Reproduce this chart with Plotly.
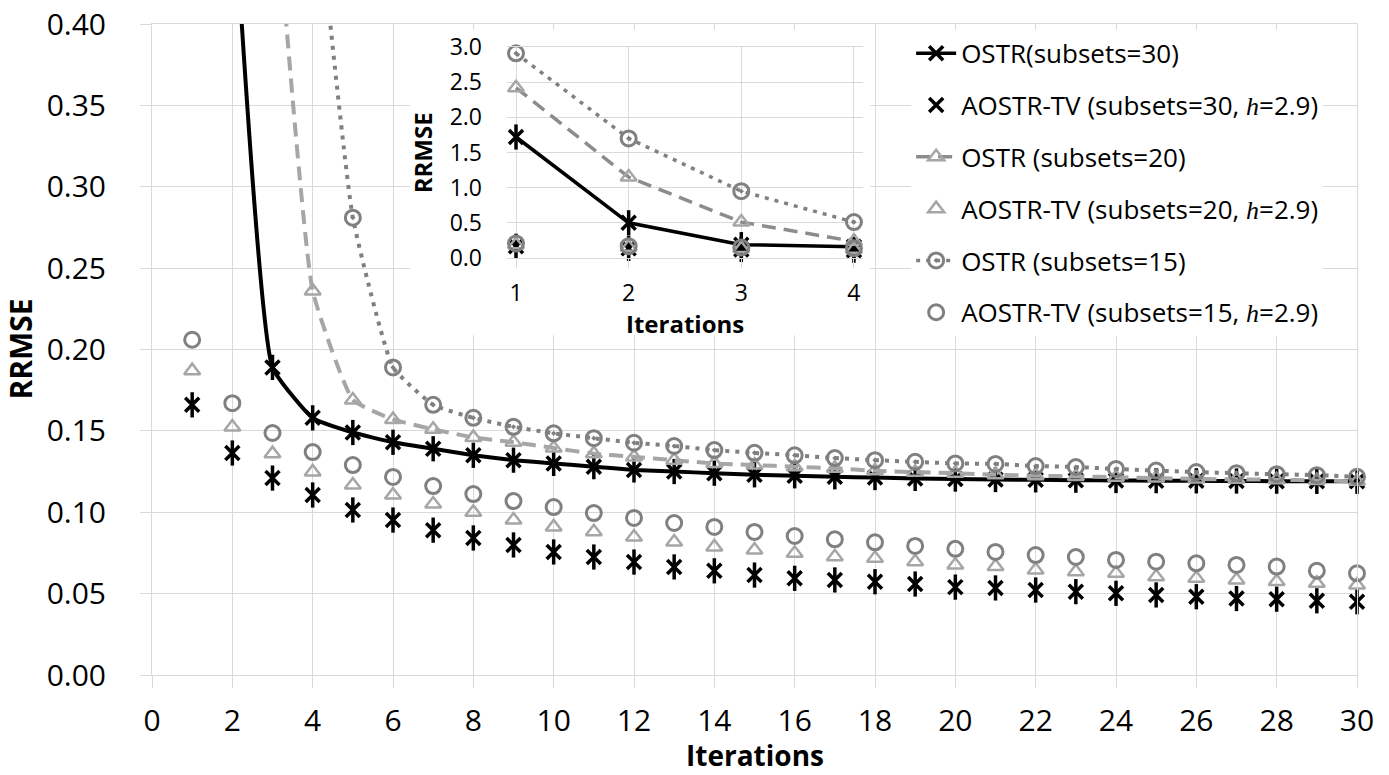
import plotly.graph_objects as go

iterations = list(range(1, 31))

ostr30 = [1.72, 0.50, 0.189, 0.158, 0.149, 0.143, 0.139, 0.135, 0.132, 0.130,
          0.128, 0.126, 0.125, 0.124, 0.123, 0.1224, 0.1218, 0.1213, 0.1208, 0.1204,
          0.1201, 0.1199, 0.1197, 0.1195, 0.1194, 0.1193, 0.1192, 0.1191, 0.119, 0.119]
aostr30 = [0.166, 0.1364, 0.121, 0.1106, 0.1014, 0.0952, 0.089, 0.0842, 0.0799, 0.0756,
           0.0725, 0.0694, 0.0664, 0.064, 0.0614, 0.0594, 0.0584, 0.0573, 0.0559, 0.054,
           0.0535, 0.0522, 0.0512, 0.0502, 0.0492, 0.0481, 0.047, 0.0466, 0.0456, 0.045]
ostr20 = [2.42, 1.15, 0.51, 0.236, 0.169, 0.157, 0.151, 0.146, 0.143, 0.1395,
          0.136, 0.134, 0.132, 0.130, 0.129, 0.128, 0.127, 0.1255, 0.1246, 0.124,
          0.123, 0.1225, 0.122, 0.1215, 0.121, 0.1205, 0.1202, 0.120, 0.1195, 0.119]
aostr20 = [0.187, 0.1524, 0.136, 0.1248, 0.1167, 0.1106, 0.105, 0.100, 0.0952, 0.091,
           0.088, 0.0848, 0.0817, 0.0787, 0.0768, 0.0748, 0.0727, 0.0717, 0.0696, 0.0676,
           0.0666, 0.0645, 0.0635, 0.0625, 0.0604, 0.0594, 0.0584, 0.0574, 0.0563, 0.0553]
ostr15 = [2.91, 1.70, 0.95, 0.51, 0.281, 0.189, 0.166, 0.158, 0.1525, 0.1485,
          0.1455, 0.1427, 0.1407, 0.1382, 0.1365, 0.135, 0.1333, 0.132, 0.131, 0.130,
          0.1297, 0.1284, 0.1278, 0.1266, 0.1256, 0.1247, 0.124, 0.1234, 0.1228, 0.1218]
aostr15 = [0.206, 0.167, 0.1487, 0.137, 0.129, 0.1217, 0.1161, 0.1112, 0.1069, 0.1032,
           0.0995, 0.0965, 0.0934, 0.091, 0.0879, 0.0854, 0.0834, 0.0815, 0.0793, 0.0775,
           0.0756, 0.0737, 0.0725, 0.0707, 0.0696, 0.0686, 0.0676, 0.0666, 0.064, 0.0625]

INSET_N = 4
MAIN_XRANGE = [0, 30]
MAIN_YRANGE = [0, 0.40]

H = '<span style="font-family:Liberation Serif;font-style:italic">h</span>'
names = {
    "o30": "OSTR(subsets=30)",
    "a30": "AOSTR-TV (subsets=30, " + H + "=2.9)",
    "o20": "OSTR (subsets=20)",
    "a20": "AOSTR-TV (subsets=20, " + H + "=2.9)",
    "o15": "OSTR (subsets=15)",
    "a15": "AOSTR-TV (subsets=15, " + H + "=2.9)",
}

BLACK = "#000000"
LGRAY = "#A6A6A6"
MGRAY = "#808080"
GRID = "#D9D9D9"
FONT = "Open Sans"

series = [
    # key, data, is_line, color, dash, symbol, msize, mlw
    ("o30", ostr30, True, BLACK, "solid", "x-thin-open", 14, 3.5),
    ("a30", aostr30, False, BLACK, None, "x-thin-open", 14, 3.5),
    ("o20", ostr20, True, LGRAY, "14px,8px", "triangle-up-open", 14, 2.5),
    ("a20", aostr20, False, LGRAY, None, "triangle-up-open", 14, 2.5),
    ("o15", ostr15, True, MGRAY, "4px,6px", "circle-open-dot", 15, 3),
    ("a15", aostr15, False, MGRAY, None, "circle-open", 15, 3),
]

fig = go.Figure()

# white backdrop behind the inset (covers main gridlines, sits below main traces)
INSET_BOX = dict(x0=0.214, x1=0.596, y0=0.522, y1=0.991)  # fractions of main plot area
bx0 = MAIN_XRANGE[0] + INSET_BOX["x0"] * (MAIN_XRANGE[1] - MAIN_XRANGE[0])
bx1 = MAIN_XRANGE[0] + INSET_BOX["x1"] * (MAIN_XRANGE[1] - MAIN_XRANGE[0])
by0 = MAIN_YRANGE[0] + INSET_BOX["y0"] * (MAIN_YRANGE[1] - MAIN_YRANGE[0])
by1 = MAIN_YRANGE[0] + INSET_BOX["y1"] * (MAIN_YRANGE[1] - MAIN_YRANGE[0])
fig.add_trace(go.Scatter(
    x=[bx0, bx1, bx1, bx0, bx0], y=[by0, by0, by1, by1, by0],
    mode="lines", fill="toself", fillcolor="white", line=dict(width=0, color="white"),
    showlegend=False, hoverinfo="skip", xaxis="x", yaxis="y"))

# ---- main plot ----
for key, data, is_line, color, dash, sym, ms, mlw in series:
    if is_line:
        fig.add_trace(go.Scatter(
            x=iterations, y=data, mode="lines",
            line=dict(color=color, width=4, dash=dash, shape="spline", smoothing=0.4),
            showlegend=False, hoverinfo="skip", legendgroup=key,
            xaxis="x", yaxis="y"))
    ym = [v if v <= MAIN_YRANGE[1] else None for v in data]
    fig.add_trace(go.Scatter(
        x=iterations, y=ym, mode="markers",
        marker=dict(symbol=sym, size=ms, color=color, line=dict(color=color, width=mlw)),
        cliponaxis=False, showlegend=False, legendgroup=key, xaxis="x", yaxis="y"))
    if sym == "x-thin-open":
        fig.add_trace(go.Scatter(
            x=iterations, y=ym, mode="markers",
            marker=dict(symbol="line-ns-open", size=18, color=color,
                        line=dict(color=color, width=mlw)),
            cliponaxis=False, showlegend=False, legendgroup=key, xaxis="x", yaxis="y"))

# ---- inset plot (carries legend) ----
for key, data, is_line, color, dash, sym, ms, mlw in series:
    xi = iterations[:INSET_N]
    yi = data[:INSET_N]
    lc = color if color != LGRAY else "#8C8C8C"
    fig.add_trace(go.Scatter(
        x=xi, y=yi, mode="lines+markers" if is_line else "markers",
        name=names[key], legendgroup=key,
        line=dict(color=lc, width=3.5, dash=dash) if is_line else None,
        marker=dict(symbol=sym, size=ms, color=color, line=dict(color=color, width=mlw)),
        cliponaxis=False, xaxis="x2", yaxis="y2"))
    if sym == "x-thin-open":
        fig.add_trace(go.Scatter(
            x=xi, y=yi, mode="markers",
            marker=dict(symbol="line-ns-open", size=18, color=color,
                        line=dict(color=color, width=mlw)),
            cliponaxis=False, showlegend=False, legendgroup=key, xaxis="x2", yaxis="y2"))

fig.update_layout(
    width=1389, height=775,
    margin=dict(l=152, r=32, t=24, b=100, autoexpand=False),
    paper_bgcolor="white", plot_bgcolor="white",
    font=dict(family=FONT, color="black"),
    xaxis=dict(
        range=MAIN_XRANGE, dtick=2, tick0=0, showgrid=True, gridcolor=GRID, gridwidth=1,
        zeroline=False, showline=True, mirror=True, linecolor=GRID, linewidth=1,
        ticks="outside", ticklen=12, tickcolor=GRID, tickwidth=1, automargin=False,
        tickfont=dict(size=30, family=FONT), ticklabelstandoff=7,
    ),
    yaxis=dict(
        range=MAIN_YRANGE, dtick=0.05, tick0=0, tickformat=".2f",
        showgrid=True, gridcolor=GRID, gridwidth=1,
        zeroline=False, showline=True, mirror=True, linecolor=GRID, linewidth=1,
        ticks="outside", ticklen=11, tickcolor=GRID, tickwidth=1, automargin=False,
        tickfont=dict(size=30, family=FONT), ticklabelstandoff=28,
    ),
    xaxis2=dict(
        domain=[0.2946, 0.590], anchor="y2", range=[0.92, 4.08], dtick=1, tick0=1,
        showgrid=True, gridcolor=GRID, zeroline=False,
        showline=True, mirror=True, linecolor=GRID, linewidth=1,
        ticks="outside", ticklen=9, tickcolor=GRID, automargin=False,
        tickfont=dict(size=23, family=FONT), ticklabelstandoff=5,
    ),
    yaxis2=dict(
        domain=[0.6406, 0.9647], anchor="x2", range=[0, 3], dtick=0.5, tick0=0,
        tickformat=".1f", showgrid=True, gridcolor=GRID, zeroline=False, showline=False,
        ticks="", tickfont=dict(size=23, family=FONT), ticklabelstandoff=24,
        automargin=False,
    ),
    annotations=[
        dict(text="<b>Iterations</b>", xref="x domain", yref="paper",
             x=0.5, y=-0.1229, xanchor="center", yanchor="middle", showarrow=False,
             font=dict(size=28, family=FONT, color="black")),
        dict(text="<b>RRMSE</b>", xref="paper", yref="y domain", textangle=-90,
             x=-0.1095, y=0.5, xanchor="center", yanchor="middle", showarrow=False,
             font=dict(size=30, family=FONT, color="black")),
        dict(text="<b>Iterations</b>", xref="x2 domain", yref="paper",
             x=0.5, y=0.5392, xanchor="center", yanchor="middle", showarrow=False,
             font=dict(size=24, family=FONT, color="black")),
        dict(text="<b>RRMSE</b>", xref="paper", yref="y2 domain", textangle=-90,
             x=0.2248, y=0.5, xanchor="center", yanchor="middle", showarrow=False,
             font=dict(size=24, family=FONT, color="black")),
    ],
    legend=dict(
        x=0.630, y=0.991, xanchor="left", yanchor="top",
        bgcolor="white", borderwidth=0,
        font=dict(size=26, family=FONT, color="black"),
        tracegroupgap=15, itemwidth=40, traceorder="grouped",
    ),
)

fig.write_html("out.html")
